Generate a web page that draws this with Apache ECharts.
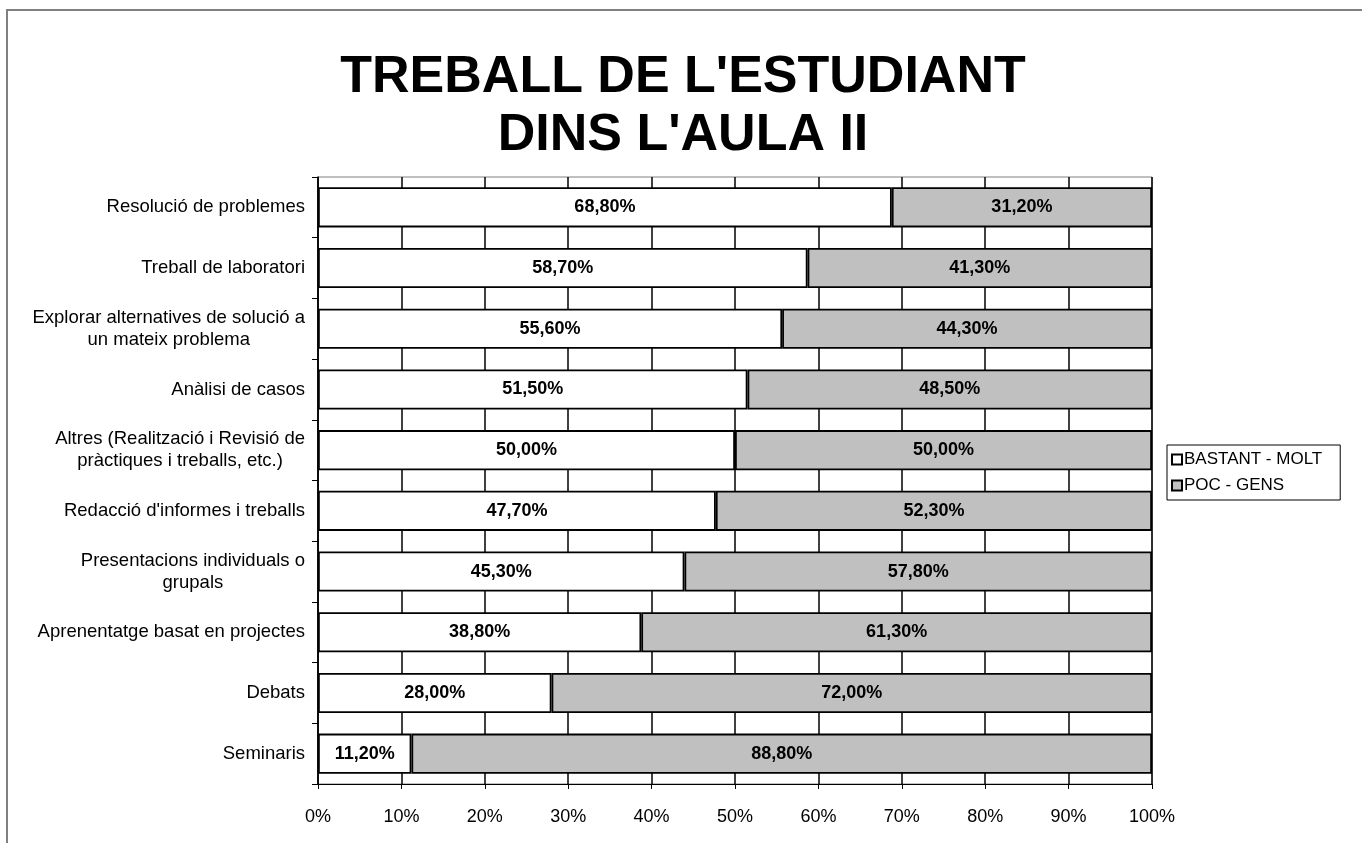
<!DOCTYPE html>
<html>
<head>
<meta charset="utf-8">
<script src="https://cdn.jsdelivr.net/npm/echarts@6/dist/echarts.min.js"></script>
<style>
html, body { margin: 0; padding: 0; background: #fff; }
#chart { width: 1362px; height: 843px; }
</style>
</head>
<body>
<div id="chart"></div>
<script>
var categories = [
    'Resolució de problemes',
    'Treball de laboratori',
    'Explorar alternatives de solució a\nun mateix problema',
    'Anàlisi de casos',
    'Altres (Realització i Revisió de\npràctiques i treballs, etc.)',
    "Redacció d'informes i treballs",
    'Presentacions individuals o\ngrupals',
    'Aprenentatge basat en projectes',
    'Debats',
    'Seminaris'
];
var bastantMolt = [68.8, 58.7, 55.6, 51.5, 50.0, 47.7, 45.3, 38.8, 28.0, 11.2];
var pocGens = [31.2, 41.3, 44.3, 48.5, 50.0, 52.3, 57.8, 61.3, 72.0, 88.8];
var xTicks = [0, 10, 20, 30, 40, 50, 60, 70, 80, 90, 100];

// 100% stacked: each row is scaled to its own total
function share(list, i) {
    return list[i] * 100 / (bastantMolt[i] + pocGens[i]);
}
var dataA = bastantMolt.map(function (v, i) { return share(bastantMolt, i); });
var dataB = pocGens.map(function (v, i) { return share(pocGens, i); });

function fmt(v) {
    return v.toFixed(2).replace('.', ',') + '%';
}

var font = 'Arial, "Liberation Sans", sans-serif';

var option = {
    animation: false,
    backgroundColor: '#fff',
    textStyle: { fontFamily: font },
    title: {
        text: "TREBALL DE L'ESTUDIANT\nDINS L'AULA II",
        left: 678,
        textAlign: 'center',
        top: 44,
        textStyle: {
            fontFamily: font,
            fontSize: 52,
            fontWeight: 'bold',
            color: '#000',
            lineHeight: 58
        }
    },
    graphic: [{
        type: 'rect',
        shape: { x: 7, y: 10, width: 1400, height: 900 },
        style: { fill: 'none', stroke: '#808080', lineWidth: 2 },
        silent: true
    }],
    legend: {
        orient: 'vertical',
        left: 1167,
        top: 445,
        data: ['BASTANT - MOLT', 'POC - GENS'],
        icon: 'rect',
        itemWidth: 10,
        itemHeight: 10,
        itemGap: 9,
        padding: [6, 18, 6, 4],
        borderColor: '#000',
        borderWidth: 1,
        borderRadius: 0,
        textStyle: { fontFamily: font, fontSize: 17, color: '#000', padding: [0, 0, 0, -3] }
    },
    grid: {
        left: 318,
        right: 210,
        top: 177,
        bottom: 59,
        show: true,
        borderColor: '#808080',
        borderWidth: 1,
        backgroundColor: 'transparent'
    },
    xAxis: {
        type: 'value',
        min: 0,
        max: 100,
        interval: 10,
        axisLine: { show: true, lineStyle: { color: '#000', width: 1 } },
        axisTick: { show: true, length: 5, lineStyle: { color: '#000' } },
        splitLine: { show: true, lineStyle: { color: '#000', width: 1.5 } },
        axisLabel: {
            margin: 24,
            fontFamily: font,
            fontSize: 18,
            color: '#000',
            formatter: function (v) { return xTicks.indexOf(v) >= 0 ? v + '%' : ''; }
        }
    },
    yAxis: {
        type: 'category',
        inverse: true,
        data: categories,
        axisLine: { show: true, lineStyle: { color: '#000', width: 1.5 } },
        axisTick: { show: true, length: 6, lineStyle: { color: '#000' } },
        splitLine: { show: false },
        axisLabel: {
            margin: 13,
            color: '#000',
            formatter: function (v) {
                return v.split('\n').map(function (s) { return '{c|' + s + '}'; }).join('\n');
            },
            rich: {
                c: { align: 'center', fontFamily: font, fontSize: 18.5, color: '#000', lineHeight: 22 }
            }
        }
    },
    series: [
        {
            name: 'BASTANT - MOLT',
            type: 'bar',
            stack: 'total',
            barCategoryGap: '34%',
            data: dataA,
            itemStyle: { color: '#ffffff', borderColor: '#000', borderWidth: 1.8 },
            label: {
                show: true,
                position: 'inside',
                fontFamily: font,
                fontSize: 18,
                fontWeight: 'bold',
                color: '#000',
                formatter: function (p) { return fmt(bastantMolt[p.dataIndex]); }
            }
        },
        {
            name: 'POC - GENS',
            type: 'bar',
            stack: 'total',
            barCategoryGap: '34%',
            data: dataB,
            itemStyle: { color: '#c0c0c0', borderColor: '#000', borderWidth: 1.8 },
            label: {
                show: true,
                position: 'inside',
                fontFamily: font,
                fontSize: 18,
                fontWeight: 'bold',
                color: '#000',
                formatter: function (p) { return fmt(pocGens[p.dataIndex]); }
            }
        }
    ]
};

var chart = echarts.init(document.getElementById('chart'));
chart.setOption(option);
</script>
</body>
</html>
